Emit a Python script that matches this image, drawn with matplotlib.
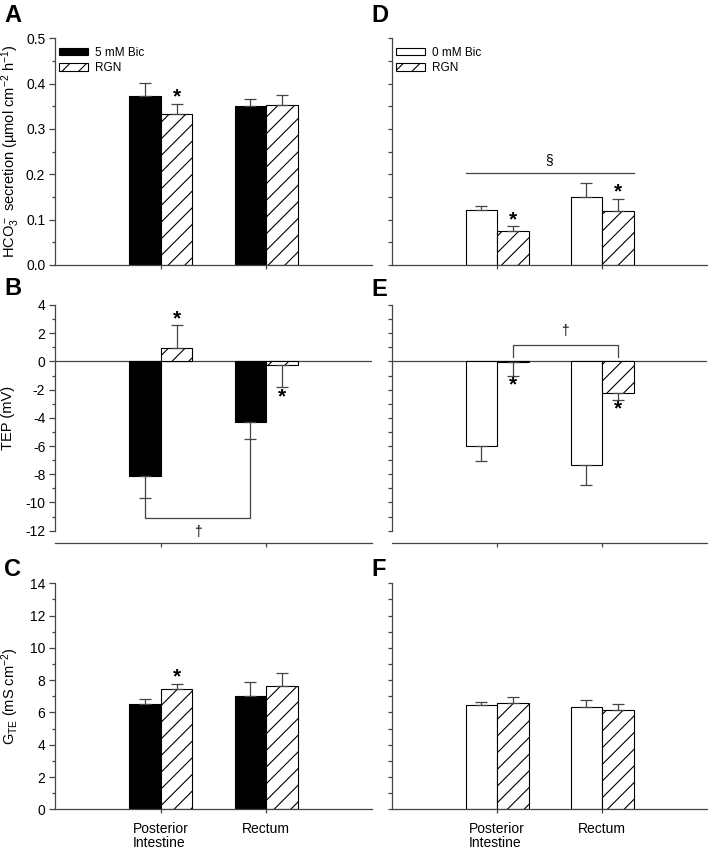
"""
Bicarbonate secretion, TEP and G_TE in posterior intestine and rectum,
with and without RGN, at 5 mM and 0 mM bicarbonate.
"""
import matplotlib.pyplot as plt
from matplotlib.patches import Patch
from matplotlib.ticker import MultipleLocator

plt.rcParams["font.family"] = ["Liberation Sans", "DejaVu Sans"]
plt.rcParams["mathtext.default"] = "regular"
plt.rcParams["axes.unicode_minus"] = False
plt.rcParams["hatch.linewidth"] = 0.8

SITES = ["Posterior\nIntestine", "Rectum"]
POS = [1, 2]

# HCO3- secretion (umol cm-2 h-1)
hco3_bic5 = [0.372, 0.351]
hco3_bic5_sem = [0.029, 0.016]
hco3_bic5_rgn = [0.333, 0.353]
hco3_bic5_rgn_sem = [0.023, 0.021]
hco3_bic0 = [0.121, 0.149]
hco3_bic0_sem = [0.009, 0.032]
hco3_bic0_rgn = [0.075, 0.119]
hco3_bic0_rgn_sem = [0.010, 0.027]

# TEP (mV)
tep_bic5 = [-8.13, -4.32]
tep_bic5_sem = [1.54, 1.21]
tep_bic5_rgn = [0.97, -0.28]
tep_bic5_rgn_sem = [1.59, 1.52]
tep_bic0 = [-6.00, -7.32]
tep_bic0_sem = [1.04, 1.42]
tep_bic0_rgn = [-0.05, -2.24]
tep_bic0_rgn_sem = [0.95, 0.46]

# G_TE (mS cm-2)
gte_bic5 = [6.50, 7.00]
gte_bic5_sem = [0.31, 0.87]
gte_bic5_rgn = [7.43, 7.64]
gte_bic5_rgn_sem = [0.33, 0.80]
gte_bic0 = [6.45, 6.33]
gte_bic0_sem = [0.22, 0.45]
gte_bic0_rgn = [6.58, 6.14]
gte_bic0_rgn_sem = [0.37, 0.37]

# sites where RGN differs from control (*)
stars_hco3_bic5 = [0]
stars_tep_bic5 = [0, 1]
stars_gte_bic5 = [0]
stars_hco3_bic0 = [0, 1]
stars_tep_bic0 = [0, 1]
stars_gte_bic0 = []

W = 0.3
LINE = "#444444"


def draw_pair(ax, ctrl, ctrl_sem, rgn, rgn_sem, ctrl_color, stars):
    xc = [p - W / 2 for p in POS]
    xr = [p + W / 2 for p in POS]
    ax.bar(xc, ctrl, W, color=ctrl_color, edgecolor="black", linewidth=0.8, zorder=2)
    ax.bar(xr, rgn, W, color="white", edgecolor="black", hatch="//",
           linewidth=0.8, zorder=2)
    for xs, m, s in ((xc, ctrl, ctrl_sem), (xr, rgn, rgn_sem)):
        lo = [e if v < 0 else 0 for v, e in zip(m, s)]
        hi = [0 if v < 0 else e for v, e in zip(m, s)]
        ax.errorbar(xs, m, yerr=[lo, hi], fmt="none", ecolor=LINE,
                    elinewidth=0.9, capsize=4, capthick=0.9, zorder=3)
    for i in stars:
        m, s = rgn[i], rgn_sem[i]
        if m >= 0:
            ax.annotate("*", (xr[i], m + s), xytext=(0, 1),
                        textcoords="offset points", ha="center", va="baseline",
                        fontsize=15, fontweight="bold")
        else:
            ax.annotate("*", (xr[i], m - s), xytext=(0, -11),
                        textcoords="offset points", ha="center", va="baseline",
                        fontsize=15, fontweight="bold")
    return xc, xr


def style_axes(ax, major, minor, labels, bottom_row):
    for side in ("top", "right"):
        ax.spines[side].set_visible(False)
    for side in ("left", "bottom"):
        ax.spines[side].set_color(LINE)
        ax.spines[side].set_linewidth(0.9)
    ax.set_xlim(0, 3)
    ax.set_xticks(POS)
    if bottom_row:
        ax.set_xticklabels(SITES, fontsize=10)
        for t in ax.get_xticklabels():
            t.set_multialignment("left")
            t.set_linespacing(1.0)
    else:
        ax.set_xticklabels([])
    ax.tick_params(axis="x", direction="out", length=3, width=0.9,
                   color=LINE, pad=6)
    if labels:
        ax.yaxis.set_major_locator(MultipleLocator(major))
        ax.yaxis.set_minor_locator(MultipleLocator(minor))
        ax.tick_params(axis="y", which="major", length=4, width=0.9,
                       color=LINE, labelsize=10, pad=3)
        ax.tick_params(axis="y", which="minor", length=2.5, width=0.9,
                       color=LINE)
    else:
        ax.yaxis.set_major_locator(MultipleLocator(minor))
        ax.tick_params(axis="y", which="major", length=3, width=0.9,
                       color=LINE, labelleft=False)


fig = plt.figure(figsize=(7.09, 8.49), dpi=100)
LX, RX = 55 / 709, 392 / 709
LW, RW = 317 / 709, 315 / 709
ROW1 = (1 - 265 / 849, 226.7 / 849)
ROW2 = (1 - 542.7 / 849, 237.7 / 849)
ROW3 = (1 - 809.3 / 849, 226 / 849)

axA = fig.add_axes([LX, ROW1[0], LW, ROW1[1]])
axB = fig.add_axes([LX, ROW2[0], LW, ROW2[1]])
axC = fig.add_axes([LX, ROW3[0], LW, ROW3[1]])
axD = fig.add_axes([RX, ROW1[0], RW, ROW1[1]])
axE = fig.add_axes([RX, ROW2[0], RW, ROW2[1]])
axF = fig.add_axes([RX, ROW3[0], RW, ROW3[1]])

# --- A: HCO3- secretion, 5 mM Bic ---
draw_pair(axA, hco3_bic5, hco3_bic5_sem, hco3_bic5_rgn, hco3_bic5_rgn_sem,
          "black", stars_hco3_bic5)
axA.set_ylim(0, 0.5)
style_axes(axA, 0.1, 0.05, True, False)
axA.set_ylabel(r"HCO$_3^-$ secretion (µmol cm$^{-2}$ h$^{-1}$)", fontsize=10.5)
axA.yaxis.set_label_coords(-0.104, 0.5)

# --- D: HCO3- secretion, 0 mM Bic ---
draw_pair(axD, hco3_bic0, hco3_bic0_sem, hco3_bic0_rgn, hco3_bic0_rgn_sem,
          "white", stars_hco3_bic0)
axD.set_ylim(0, 0.5)
style_axes(axD, 0.1, 0.05, False, False)
sect_y = 0.204
axD.plot([POS[0] - W, POS[1] + W], [sect_y, sect_y], color=LINE, lw=0.9)
axD.text((POS[0] + POS[1]) / 2, sect_y + 0.012, "§", ha="center",
         va="bottom", fontsize=10)

for ax, first in ((axA, "5 mM Bic"), (axD, "0 mM Bic")):
    fc = "black" if ax is axA else "white"
    handles = [Patch(facecolor=fc, edgecolor="black", linewidth=0.8),
               Patch(facecolor="white", edgecolor="black", hatch="//",
                     linewidth=0.8)]
    ax.legend(handles, [first, "RGN"], loc="upper left",
              bbox_to_anchor=(0.014, 0.963), frameon=False, fontsize=8.5,
              handlelength=2.45, handleheight=0.6, handletextpad=0.6,
              labelspacing=0.28, borderpad=0, borderaxespad=0)

# --- B: TEP, 5 mM Bic ---
xc, xr = draw_pair(axB, tep_bic5, tep_bic5_sem, tep_bic5_rgn, tep_bic5_rgn_sem,
                   "black", stars_tep_bic5)
axB.set_ylim(-12.85, 4)
style_axes(axB, 2, 1, True, False)
axB.spines["left"].set_bounds(-12, 4)
axB.axhline(0, color=LINE, lw=0.9, zorder=1)
axB.set_ylabel("TEP (mV)", fontsize=10.5)
axB.yaxis.set_label_coords(-0.125, 0.525)
tip0 = tep_bic5[0] - tep_bic5_sem[0]
tip1 = tep_bic5[1] - tep_bic5_sem[1]
brk_y = -11.13
axB.plot([xc[0], xc[0], xc[1], xc[1]], [tip0, brk_y, brk_y, tip1],
         color=LINE, lw=0.9)
axB.text((xc[0] + xc[1]) / 2, brk_y - 0.45, "†", ha="center", va="top",
         fontsize=10)

# --- E: TEP, 0 mM Bic ---
xc, xr = draw_pair(axE, tep_bic0, tep_bic0_sem, tep_bic0_rgn, tep_bic0_rgn_sem,
                   "white", stars_tep_bic0)
axE.set_ylim(-12.85, 4)
style_axes(axE, 2, 1, False, False)
axE.spines["left"].set_bounds(-12, 4)
axE.axhline(0, color=LINE, lw=0.9, zorder=1)
leg_y, brk_y = 0.34, 1.19
axE.plot([xr[0], xr[0], xr[1], xr[1]], [leg_y, brk_y, brk_y, leg_y],
         color=LINE, lw=0.9)
axE.text((xr[0] + xr[1]) / 2, brk_y + 0.45, "†", ha="center", va="bottom",
         fontsize=10)

# --- C: G_TE, 5 mM Bic ---
draw_pair(axC, gte_bic5, gte_bic5_sem, gte_bic5_rgn, gte_bic5_rgn_sem,
          "black", stars_gte_bic5)
axC.set_ylim(0, 14)
style_axes(axC, 2, 1, True, True)
axC.set_ylabel(r"G$_{TE}$ (mS cm$^{-2}$)", fontsize=10.5)
axC.yaxis.set_label_coords(-0.108, 0.5)

# --- F: G_TE, 0 mM Bic ---
draw_pair(axF, gte_bic0, gte_bic0_sem, gte_bic0_rgn, gte_bic0_rgn_sem,
          "white", stars_gte_bic0)
axF.set_ylim(0, 14)
style_axes(axF, 2, 1, False, True)

# panel letters
for letter, x, y in (("A", 4, 22), ("B", 4, 295), ("C", 4, 576),
                     ("D", 371, 22), ("E", 371, 296), ("F", 371, 576)):
    fig.text(x / 709, 1 - y / 849, letter, fontsize=17, fontweight="bold",
             va="baseline", ha="left")

fig.savefig("out.png", dpi=100)
